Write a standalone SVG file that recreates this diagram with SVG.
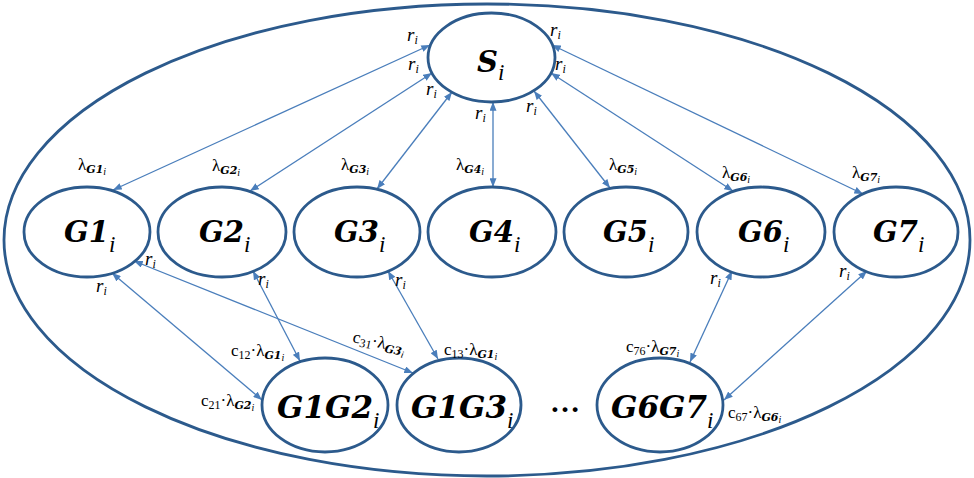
<svg xmlns="http://www.w3.org/2000/svg" width="974" height="478" viewBox="0 0 974 478">
  <defs>
    <marker id="ah" viewBox="0 0 10 8" markerWidth="9" markerHeight="7" refX="10" refY="4" orient="auto-start-reverse" markerUnits="userSpaceOnUse">
      <path d="M0,0 L10,4 L0,8 z" fill="#4a7ebb"/>
    </marker>
  </defs>
  <style>
    .shape { fill: #ffffff; stroke: #2c5a8c; stroke-width: 2.8; }
    .outer { fill: #ffffff; stroke: #2c5a8c; stroke-width: 2.8; }
    .big { font-family: "DejaVu Serif", serif; font-weight: bold; font-style: italic; font-size: 29px; fill: #000; }
    .big2 { font-size: 31px; }
    .bsub { font-family: "Liberation Serif", serif; font-style: italic; font-weight: normal; font-size: 23px; }
    .lbl { font-family: "Liberation Serif", serif; font-size: 17px; fill: #000; }
    .it { font-style: italic; }
    .r { font-size: 19px; }
    .sub { font-size: 12px; }
    .gsub { font-family: "DejaVu Serif", serif; font-weight: bold; font-style: italic; font-size: 11px; }
    .ssub { font-size: 10px; font-style: italic; }
    .conn line { stroke: #4a7ebb; stroke-width: 1.3; fill: none; marker-start: url(#ah); marker-end: url(#ah); }
  </style>

  <!-- enclosing boundary -->
  <ellipse class="outer" cx="487" cy="240" rx="483" ry="236"/>

  <!-- connectors (all double-headed) -->
  <g id="connectors" class="conn">
    <line x1="430" y1="45" x2="113" y2="190"/>
    <line x1="432" y1="73" x2="250" y2="191"/>
    <line x1="452" y1="92" x2="377" y2="189"/>
    <line x1="493" y1="102" x2="493" y2="187"/>
    <line x1="534" y1="91" x2="610" y2="188"/>
    <line x1="551" y1="73" x2="733" y2="191"/>
    <line x1="552" y1="45" x2="863" y2="194"/>

    <line x1="112" y1="273" x2="262" y2="400"/>
    <line x1="134" y1="261" x2="413" y2="373"/>
    <line x1="253" y1="271" x2="300" y2="361"/>
    <line x1="388" y1="271" x2="438" y2="359"/>
    <line x1="732" y1="271" x2="690" y2="362"/>
    <line x1="867" y1="271" x2="724" y2="400"/>
  </g>

  <!-- source node -->
  <g id="S">
    <ellipse class="shape" cx="491.5" cy="57.5" rx="63.5" ry="44.5"/>
    <text class="big" x="477" y="72">S<tspan class="bsub" dy="8">i</tspan></text>
  </g>

  <!-- group nodes -->
  <g id="G1">
    <ellipse class="shape" cx="87" cy="232" rx="63" ry="45"/>
    <text class="big" x="64" y="242">G1<tspan class="bsub" dy="10">i</tspan></text>
  </g>
  <g id="G2">
    <ellipse class="shape" cx="222" cy="232" rx="64" ry="45"/>
    <text class="big" x="199" y="242">G2<tspan class="bsub" dy="10">i</tspan></text>
  </g>
  <g id="G3">
    <ellipse class="shape" cx="357" cy="232" rx="63" ry="45"/>
    <text class="big" x="334" y="242">G3<tspan class="bsub" dy="10">i</tspan></text>
  </g>
  <g id="G4">
    <ellipse class="shape" cx="492" cy="232" rx="64" ry="45"/>
    <text class="big" x="469" y="242">G4<tspan class="bsub" dy="10">i</tspan></text>
  </g>
  <g id="G5">
    <ellipse class="shape" cx="626" cy="232" rx="62" ry="45"/>
    <text class="big" x="603" y="242">G5<tspan class="bsub" dy="10">i</tspan></text>
  </g>
  <g id="G6">
    <ellipse class="shape" cx="761" cy="232" rx="64" ry="45"/>
    <text class="big" x="738" y="242">G6<tspan class="bsub" dy="10">i</tspan></text>
  </g>
  <g id="G7">
    <ellipse class="shape" cx="896" cy="232" rx="62" ry="45"/>
    <text class="big" x="873" y="242">G7<tspan class="bsub" dy="10">i</tspan></text>
  </g>

  <!-- pair nodes -->
  <g id="G1G2">
    <ellipse class="shape" cx="325" cy="405" rx="63" ry="47"/>
    <text class="big big2" x="277" y="418">G1G2<tspan class="bsub" dy="10">i</tspan></text>
  </g>
  <g id="G1G3">
    <ellipse class="shape" cx="459" cy="405" rx="62" ry="47"/>
    <text class="big big2" x="411" y="418">G1G3<tspan class="bsub" dy="10">i</tspan></text>
  </g>
  <g id="G6G7">
    <ellipse class="shape" cx="660" cy="405" rx="63" ry="47"/>
    <text class="big big2" x="611" y="418">G6G7<tspan class="bsub" dy="10">i</tspan></text>
  </g>
  <text x="565" y="412" text-anchor="middle" style="font-family:'Liberation Serif',serif;font-weight:bold;font-size:30px">…</text>

  <!-- rate labels around S -->
  <g id="rates-S">
    <text class="lbl it r" x="407" y="41">r<tspan class="sub" dy="3">i</tspan></text>
    <text class="lbl it r" x="408" y="70">r<tspan class="sub" dy="3">i</tspan></text>
    <text class="lbl it r" x="426" y="95">r<tspan class="sub" dy="3">i</tspan></text>
    <text class="lbl it r" x="475" y="119">r<tspan class="sub" dy="3">i</tspan></text>
    <text class="lbl it r" x="526" y="112">r<tspan class="sub" dy="3">i</tspan></text>
    <text class="lbl it r" x="555" y="70">r<tspan class="sub" dy="3">i</tspan></text>
    <text class="lbl it r" x="550" y="36">r<tspan class="sub" dy="3">i</tspan></text>
  </g>

  <!-- arrival labels above group nodes -->
  <g id="rates-lambda">
    <text class="lbl" x="78" y="170">λ<tspan class="gsub" dy="3">G1</tspan><tspan class="ssub" dy="2">i</tspan></text>
    <text class="lbl" x="212" y="171">λ<tspan class="gsub" dy="3">G2</tspan><tspan class="ssub" dy="2">i</tspan></text>
    <text class="lbl" x="341" y="170">λ<tspan class="gsub" dy="3">G3</tspan><tspan class="ssub" dy="2">i</tspan></text>
    <text class="lbl" x="456" y="170">λ<tspan class="gsub" dy="3">G4</tspan><tspan class="ssub" dy="2">i</tspan></text>
    <text class="lbl" x="609" y="170">λ<tspan class="gsub" dy="3">G5</tspan><tspan class="ssub" dy="2">i</tspan></text>
    <text class="lbl" x="722" y="178">λ<tspan class="gsub" dy="3">G6</tspan><tspan class="ssub" dy="2">i</tspan></text>
    <text class="lbl" x="852" y="178">λ<tspan class="gsub" dy="3">G7</tspan><tspan class="ssub" dy="2">i</tspan></text>
  </g>

  <!-- rate labels below group nodes -->
  <g id="rates-lower">
    <text class="lbl it r" x="96" y="292">r<tspan class="sub" dy="3">i</tspan></text>
    <text class="lbl it r" x="145" y="265">r<tspan class="sub" dy="3">i</tspan></text>
    <text class="lbl it r" x="258" y="285">r<tspan class="sub" dy="3">i</tspan></text>
    <text class="lbl it r" x="395" y="286">r<tspan class="sub" dy="3">i</tspan></text>
    <text class="lbl it r" x="710" y="284">r<tspan class="sub" dy="3">i</tspan></text>
    <text class="lbl it r" x="839" y="277">r<tspan class="sub" dy="3">i</tspan></text>
  </g>

  <!-- coupled arrival labels -->
  <g id="rates-pairs">
    <text class="lbl" x="201" y="406">c<tspan class="sub" dy="3">21</tspan><tspan dy="-3">·λ</tspan><tspan class="gsub" dy="3">G2</tspan><tspan class="ssub" dy="2">i</tspan></text>
    <text class="lbl" x="231" y="356">c<tspan class="sub" dy="3">12</tspan><tspan dy="-3">·λ</tspan><tspan class="gsub" dy="3">G1</tspan><tspan class="ssub" dy="2">i</tspan></text>
    <text class="lbl" x="352" y="342" transform="rotate(12 352 342)">c<tspan class="sub" dy="3">31</tspan><tspan dy="-3">·λ</tspan><tspan class="gsub" dy="3">G3</tspan><tspan class="ssub" dy="2">i</tspan></text>
    <text class="lbl" x="444" y="355">c<tspan class="sub" dy="3">13</tspan><tspan dy="-3">·λ</tspan><tspan class="gsub" dy="3">G1</tspan><tspan class="ssub" dy="2">i</tspan></text>
    <text class="lbl" x="626" y="352">c<tspan class="sub" dy="3">76</tspan><tspan dy="-3">·λ</tspan><tspan class="gsub" dy="3">G7</tspan><tspan class="ssub" dy="2">i</tspan></text>
    <text class="lbl" x="728" y="418">c<tspan class="sub" dy="3">67</tspan><tspan dy="-3">·λ</tspan><tspan class="gsub" dy="3">G6</tspan><tspan class="ssub" dy="2">i</tspan></text>
  </g>
</svg>
